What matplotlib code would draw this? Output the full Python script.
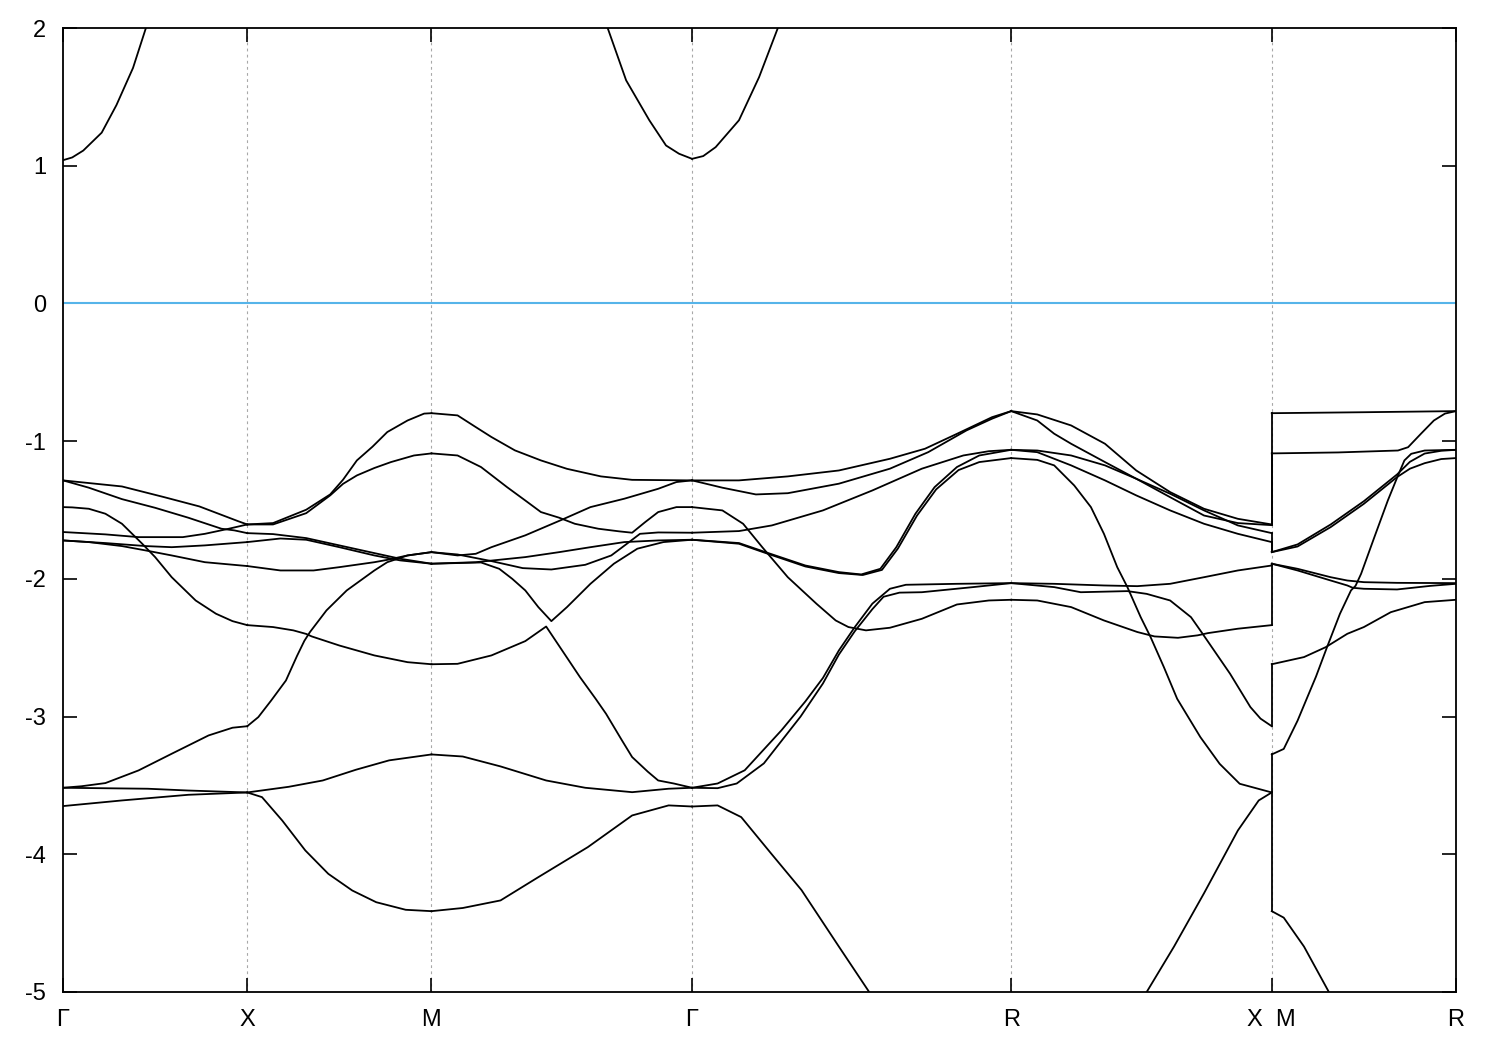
import numpy as np
import matplotlib
matplotlib.use("Agg")
import matplotlib.pyplot as plt

plt.rcParams["font.family"] = ["Liberation Sans", "DejaVu Sans"]
plt.rcParams["axes.unicode_minus"] = False

# high-symmetry path, lengths in units of Gamma-X
NODE_LABELS = ["Γ", "X", "M", "Γ", "R", "X  M", "R"]
SEG_LEN = [1.0, 1.0, np.sqrt(2), np.sqrt(3), np.sqrt(2), 1.0]

# each band piece: (fraction along segment, energy in eV)
GX_BANDS = [
    ([0, .32, .55, .74, .95, 1], [-1.285, -1.329, -1.407, -1.474, -1.581, -1.605]),
    ([0, .14, .32, .50, .68, .86, .93, 1], [-1.285, -1.338, -1.421, -1.484, -1.556, -1.636, -1.648, -1.668]),
    ([0, .23, .41, .65, .77, .90, 1], [-1.660, -1.677, -1.697, -1.697, -1.673, -1.636, -1.605]),
    ([0, .23, .45, .59, .77, 1], [-1.721, -1.740, -1.762, -1.770, -1.757, -1.733]),
    ([0, .14, .32, .45, .59, .77, 1], [-1.721, -1.733, -1.762, -1.794, -1.830, -1.879, -1.907]),
    ([0, .05, .14, .23, .32, .43, .50, .59, .72, .83, .92, 1],
     [-1.479, -1.481, -1.491, -1.527, -1.600, -1.745, -1.842, -1.988, -2.157, -2.253, -2.307, -2.336]),
    ([0, .10, .23, .41, .59, .79, .92, 1], [-3.517, -3.506, -3.483, -3.391, -3.270, -3.137, -3.081, -3.070]),
    ([0, .46, .68, 1], [-3.517, -3.524, -3.537, -3.551]),
    ([0, .32, .68, 1], [-3.650, -3.609, -3.568, -3.551]),
    ([0, .05, .11, .21, .29, .38, .45, .50], [1.040, 1.060, 1.110, 1.240, 1.440, 1.710, 2.000, 2.200]),
]

XM_BANDS = [
    ([0, .14, .32, .45, .52, .595, .68, .76, .87, .96, 1],
     [-1.605, -1.595, -1.498, -1.387, -1.280, -1.140, -1.040, -0.934, -0.850, -0.800, -0.797]),
    ([0, .14, .32, .45, .52, .595, .69, .78, .905, 1],
     [-1.605, -1.605, -1.523, -1.394, -1.310, -1.249, -1.195, -1.152, -1.104, -1.089]),
    ([0, .14, .32, .50, .69, .83, 1], [-1.668, -1.675, -1.704, -1.757, -1.813, -1.854, -1.890]),
    ([0, .18, .32, .50, .69, .83, 1], [-1.733, -1.707, -1.716, -1.770, -1.830, -1.866, -1.890]),
    ([0, .18, .36, .50, .69, .76, .87, 1], [-1.907, -1.939, -1.939, -1.915, -1.879, -1.862, -1.830, -1.806]),
    ([0, .14, .25, .32, .35, .50, .69, .87, 1], [-2.336, -2.350, -2.374, -2.400, -2.418, -2.484, -2.556, -2.605, -2.620]),
    ([0, .06, .13, .21, .27, .31, .34, .43, .54, .69, .76, .87, 1],
     [-3.070, -3.004, -2.883, -2.738, -2.560, -2.450, -2.387, -2.229, -2.084, -1.939, -1.879, -1.830, -1.806]),
    ([0, .225, .41, .59, .77, 1], [-3.551, -3.510, -3.464, -3.386, -3.318, -3.275]),
    ([0, .08, .19, .315, .44, .57, .70, .86, 1], [-3.551, -3.585, -3.755, -3.972, -4.142, -4.263, -4.348, -4.403, -4.413]),
]

MG_BANDS = [
    ([0, .10, .17, .23, .32, .42, .52, .65, .77, 1], [-0.797, -0.813, -0.898, -0.970, -1.067, -1.140, -1.201, -1.256, -1.281, -1.285]),
    ([0, .10, .19, .29, .36, .42, .49, .55, .64, .72, .77, .82, .87, .94, 1],
     [-1.089, -1.104, -1.188, -1.334, -1.431, -1.515, -1.556, -1.600, -1.636, -1.655, -1.665, -1.588, -1.515, -1.479, -1.479]),
    ([0, .10, .17, .23, .36, .50, .61, .74, .87, .94, 1], [-1.806, -1.830, -1.818, -1.770, -1.684, -1.571, -1.479, -1.418, -1.346, -1.297, -1.285]),
    ([0, .10, .23, .35, .46, .59, .69, .75, .80, .87, 1], [-1.806, -1.823, -1.871, -1.922, -1.932, -1.898, -1.830, -1.745, -1.673, -1.663, -1.665]),
    ([0, .17, .36, .49, .61, .74, .87, 1], [-1.890, -1.879, -1.842, -1.806, -1.770, -1.733, -1.721, -1.716]),
    ([0, .19, .26, .31, .36, .41, .46, .52, .61, .70, .79, .89, 1],
     [-1.890, -1.881, -1.927, -2.000, -2.084, -2.205, -2.307, -2.205, -2.036, -1.890, -1.781, -1.733, -1.716]),
    ([0, .10, .23, .36, .44, .51, .57, .63, .67, .73, .77, .83, .87, .93, 1],
     [-2.620, -2.617, -2.556, -2.452, -2.346, -2.544, -2.714, -2.871, -2.980, -3.170, -3.294, -3.400, -3.464, -3.486, -3.517]),
    ([0, .12, .265, .44, .59, .77, .91, 1], [-3.275, -3.290, -3.362, -3.464, -3.517, -3.549, -3.524, -3.517]),
    ([0, .12, .265, .41, .60, .77, .91, 1], [-4.413, -4.390, -4.335, -4.166, -3.948, -3.718, -3.645, -3.653]),
    ([.637, .677, .747, .836, .90, .95, 1], [2.200, 1.995, 1.620, 1.330, 1.147, 1.087, 1.050]),
]

GR_BANDS = [
    ([0, .147, .30, .46, .62, .73, .83, .94, 1], [-1.285, -1.285, -1.256, -1.213, -1.128, -1.055, -0.947, -0.826, -0.782]),
    ([0, .095, .20, .30, .46, .62, .74, .86, .94, 1], [-1.285, -1.338, -1.387, -1.378, -1.309, -1.200, -1.080, -0.922, -0.837, -0.782]),
    ([0, .147, .25, .41, .565, .72, .85, .93, 1], [-1.665, -1.653, -1.612, -1.503, -1.358, -1.200, -1.104, -1.073, -1.063]),
    ([0, .095, .16, .22, .30, .39, .45, .49, .545, .62, .72, .83, .93, 1],
     [-1.479, -1.503, -1.600, -1.770, -1.988, -2.181, -2.302, -2.350, -2.374, -2.355, -2.290, -2.186, -2.157, -2.152]),
    ([0, .147, .23, .355, .46, .53, .59, .64, .70, .76, .83, .90, 1],
     [-1.716, -1.740, -1.806, -1.903, -1.951, -1.968, -1.927, -1.770, -1.527, -1.334, -1.188, -1.104, -1.063]),
    ([0, .147, .23, .355, .46, .535, .595, .645, .705, .765, .835, .90, 1],
     [-1.716, -1.745, -1.812, -1.910, -1.958, -1.972, -1.935, -1.780, -1.540, -1.350, -1.210, -1.152, -1.123]),
    ([0, .08, .165, .28, .355, .41, .46, .51, .565, .62, .67, .83, 1],
     [-3.517, -3.486, -3.390, -3.100, -2.890, -2.720, -2.520, -2.350, -2.180, -2.072, -2.043, -2.036, -2.031]),
    ([0, .08, .14, .225, .34, .41, .46, .51, .565, .60, .65, .72, .88, 1],
     [-3.517, -3.520, -3.486, -3.340, -3.000, -2.760, -2.550, -2.380, -2.220, -2.130, -2.100, -2.097, -2.060, -2.031]),
    ([0, .08, .154, .248, .343, .46, .555, .60], [-3.653, -3.645, -3.730, -3.995, -4.260, -4.670, -5.000, -5.170]),
    ([0, .035, .074, .147, .21, .268, .30], [1.050, 1.070, 1.135, 1.330, 1.643, 1.995, 2.200]),
]

RX_BANDS = [
    ([0, .10, .23, .36, .48, .61, .74, .87, 1], [-0.782, -0.806, -0.886, -1.019, -1.213, -1.370, -1.491, -1.564, -1.605]),
    ([0, .10, .165, .23, .36, .48, .61, .74, .87, 1], [-0.782, -0.850, -0.946, -1.019, -1.152, -1.273, -1.407, -1.540, -1.595, -1.610]),
    ([0, .10, .23, .36, .48, .61, .74, .87, 1], [-1.063, -1.068, -1.104, -1.176, -1.273, -1.382, -1.503, -1.612, -1.668]),
    ([0, .10, .23, .36, .48, .61, .74, .87, 1], [-1.063, -1.080, -1.176, -1.285, -1.394, -1.503, -1.600, -1.673, -1.733]),
    ([0, .10, .165, .242, .306, .356, .407, .446, .497, .535, .586, .637, .726, .80, .877, 1],
     [-1.123, -1.136, -1.176, -1.322, -1.479, -1.673, -1.915, -2.060, -2.278, -2.423, -2.641, -2.871, -3.149, -3.343, -3.488, -3.551]),
    ([0, .165, .356, .484, .61, .74, .87, 1], [-2.031, -2.036, -2.048, -2.053, -2.036, -1.988, -1.939, -1.903]),
    ([0, .165, .267, .446, .52, .61, .69, .73, .84, .918, .957, 1],
     [-2.031, -2.060, -2.097, -2.089, -2.109, -2.157, -2.278, -2.386, -2.689, -2.931, -3.015, -3.070]),
    ([0, .10, .23, .356, .484, .55, .64, .716, .755, .87, 1],
     [-2.152, -2.157, -2.205, -2.302, -2.386, -2.418, -2.428, -2.410, -2.394, -2.362, -2.336]),
    ([.48, .52, .625, .74, .87, .95, 1], [-5.130, -5.000, -4.670, -4.283, -3.827, -3.609, -3.551]),
]

MR_BANDS = [
    ([0, .5, 1], [-0.797, -0.790, -0.782]),
    ([0, .36, .685, .74, .81, .88, .94, 1], [-1.089, -1.082, -1.068, -1.044, -0.946, -0.850, -0.800, -0.782]),
    ([0, .14, .32, .50, .68, .75, .83, .92, 1], [-1.806, -1.750, -1.605, -1.436, -1.242, -1.150, -1.090, -1.070, -1.063]),
    ([0, .14, .32, .50, .68, .75, .83, .92, 1], [-1.806, -1.765, -1.624, -1.455, -1.261, -1.200, -1.160, -1.130, -1.123]),
    ([0, .14, .32, .41, .50, .68, 1], [-1.890, -1.927, -1.988, -2.012, -2.024, -2.029, -2.031]),
    ([0, .14, .32, .41, .44, .50, .68, .86, 1], [-1.890, -1.939, -2.012, -2.048, -2.065, -2.072, -2.077, -2.051, -2.036]),
    ([0, .175, .293, .41, .50, .646, .83, 1], [-2.620, -2.568, -2.496, -2.399, -2.350, -2.242, -2.169, -2.152]),
    ([0, .065, .14, .193, .24, .30, .37, .43, .455, .485, .557, .63, .685, .72, .757, .83, 1],
     [-3.275, -3.235, -3.030, -2.860, -2.710, -2.496, -2.254, -2.084, -2.050, -1.963, -1.697, -1.431, -1.250, -1.140, -1.092, -1.068, -1.063]),
    ([0, .065, .175, .31, .35], [-4.413, -4.460, -4.670, -5.000, -5.120]),
]

SEGMENTS = [GX_BANDS, XM_BANDS, MG_BANDS, GR_BANDS, RX_BANDS, MR_BANDS]

nodes = np.concatenate([[0.0], np.cumsum(SEG_LEN)])
# X and M sit on the same position of the axis, so one tick is left for both
tick_pos = nodes

fig = plt.figure(figsize=(15, 10.5), dpi=100)
ax = fig.add_axes([63 / 1500, 1 - 992 / 1050, (1456 - 63) / 1500, (992 - 28) / 1050])

for i, bands in enumerate(SEGMENTS):
    k0, k1 = nodes[i], nodes[i + 1]
    for t, e in bands:
        k = k0 + np.asarray(t) * (k1 - k0)
        ax.plot(k, e, color="black", lw=1.3, zorder=3)

# bands are continuous in the data, so the X -> M jump shows as vertical lines
x_end = sorted(e[-1] for t, e in RX_BANDS)
m_start = sorted(e[0] for t, e in MR_BANDS if t[0] == 0)
for ex, em in zip(x_end, m_start):
    ax.plot([nodes[5], nodes[5]], [ex, em], color="black", lw=1.3, zorder=3)

ax.axhline(0, color="#56b4e9", lw=1.5, zorder=2)
for xv in tick_pos[1:-1]:
    ax.axvline(xv, color="#a8a8a8", lw=0.8, ls=(0, (2.5, 3)), zorder=1)

ax.set_xlim(nodes[0], nodes[-1])
ax.set_ylim(-5, 2)
ax.set_yticks(range(-5, 3))
ax.set_xticks(tick_pos)
ax.set_xticklabels(NODE_LABELS)
ax.tick_params(direction="in", top=True, right=True, length=10, width=1.2,
               labelsize=17, pad=12, colors="black")
for sp in ax.spines.values():
    sp.set_linewidth(1.3)

fig.savefig("out.png", dpi=100)
